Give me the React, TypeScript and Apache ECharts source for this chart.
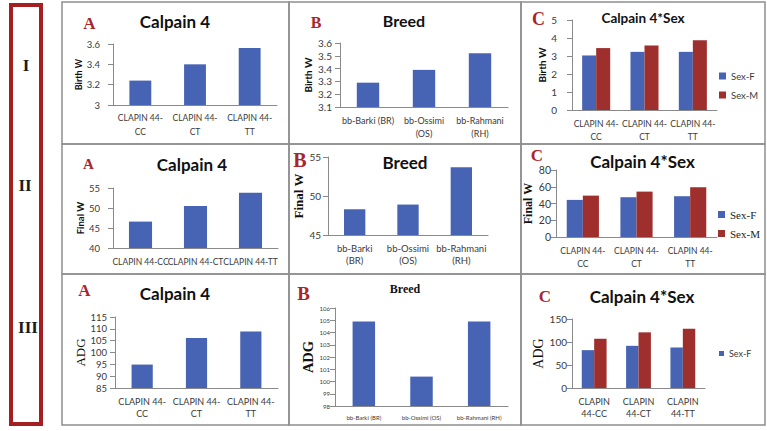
import React, { useEffect, useRef } from "react";
import * as echarts from "echarts";

// ---------- data ----------
const genotypes = ["CLAPIN 44-CC", "CLAPIN 44-CT", "CLAPIN 44-TT"];
const breeds = ["bb-Barki (BR)", "bb-Ossimi (OS)", "bb-Rahmani (RH)"];
const sexes = ["Sex-F", "Sex-M"];

const birthByGenotype = [3.24, 3.4, 3.56];
const birthByBreed = [3.29, 3.39, 3.52];
const birthFemale = [3.03, 3.23, 3.23];
const birthMale = [3.44, 3.58, 3.87];

const finalByGenotype = [46.6, 50.5, 53.8];
const finalByBreed = [48.3, 48.9, 53.7];
const finalFemale = [44.3, 47.5, 48.7];
const finalMale = [49.4, 54.2, 59.4];

const adgByGenotype = [94.9, 106.1, 108.9];
const adgByBreed = [104.9, 100.4, 104.9];
const adgFemale = [82.3, 91.7, 88.2];
const adgMale = [107, 121, 128.8];

const rowLabels = ["I", "II", "III"];
const panelLetters = ["A", "B", "C"];
const titleGenotype = "Calpain 4";
const titleBreed = "Breed";
const titleSex = "Calpain 4*Sex";

// ---------- styles ----------
const SANS = "Lato, 'Open Sans', sans-serif";
const SERIF = "'Liberation Serif', 'DejaVu Serif', serif";
const BLUE = "#4763b3";
const RED = "#9e2f2c";
const AXIS = "#8a8a8a";
const LABEL = "#3a3a3a";
const MARK = "#a8262b";

const wrapGenotype = (v: string) => v.replace("44-", "44-\n");
const wrapGenotype2 = (v: string) => v.replace("CLAPIN ", "CLAPIN\n");
const wrapBreedB1 = (v: string, i: number) => (i === 0 ? v : v.replace(" (", "\n("));
const wrapBreed = (v: string) => v.replace(" (", "\n(");
const noWrap = (v: string) => v;

type Panel = {
  grid: number[];
  cats: string[];
  fmt: (v: string, i: number) => string;
  series: { name: string; data: number[]; color: string }[];
  y: number[];
  yName: string;
  nameFont: [string, number, string];
  nameGap: number;
  yLabel: [number, number];
  xLabel: [number, number, number];
  barWidth: string;
  dec?: number;
};

const panels: Panel[] = [
  {
    grid: [113, 44, 164, 61], cats: genotypes, fmt: wrapGenotype,
    series: [{ name: titleGenotype, data: birthByGenotype, color: BLUE }],
    y: [3, 3.6, 0.2], yName: "Birth W", nameFont: [SANS, 9, "bold"], nameGap: 26,
    yLabel: [9.5, 13], xLabel: [8.5, 14, 6], barWidth: "40%", dec: 1,
  },
  {
    grid: [340, 43, 168, 64], cats: breeds, fmt: wrapBreedB1,
    series: [{ name: titleBreed, data: birthByBreed, color: BLUE }],
    y: [3.1, 3.6, 0.1], yName: "Birth W", nameFont: [SANS, 10, "bold"], nameGap: 27,
    yLabel: [10, 8], xLabel: [9, 13, 7], barWidth: "40%", dec: 1,
  },
  {
    grid: [572, 20, 145, 90], cats: genotypes, fmt: wrapGenotype,
    series: [
      { name: sexes[0], data: birthFemale, color: BLUE },
      { name: sexes[1], data: birthMale, color: RED },
    ],
    y: [0, 5, 1], yName: "Birth W", nameFont: [SANS, 10, "bold"], nameGap: 23,
    yLabel: [10, 15], xLabel: [8.5, 13, 7], barWidth: "29%",
  },
  {
    grid: [113, 188, 165, 60], cats: genotypes, fmt: noWrap,
    series: [{ name: titleGenotype, data: finalByGenotype, color: BLUE }],
    y: [40, 55, 5], yName: "Final W", nameFont: [SANS, 9.5, "bold"], nameGap: 28,
    yLabel: [9.5, 13], xLabel: [8.5, 12, 8], barWidth: "42%",
  },
  {
    grid: [328, 157, 160, 78], cats: breeds, fmt: wrapBreed,
    series: [{ name: titleBreed, data: finalByBreed, color: BLUE }],
    y: [45, 55, 5], yName: "Final W", nameFont: [SERIF, 13, "bold"], nameGap: 23,
    yLabel: [10, 7], xLabel: [9.5, 12.5, 7], barWidth: "40%",
  },
  {
    grid: [556, 170, 161, 67], cats: genotypes, fmt: wrapGenotype,
    series: [
      { name: sexes[0], data: finalFemale, color: BLUE },
      { name: sexes[1], data: finalMale, color: RED },
    ],
    y: [0, 80, 20], yName: "Final W", nameFont: [SERIF, 12, "bold"], nameGap: 22,
    yLabel: [10.5, 5], xLabel: [8.5, 13, 7], barWidth: "30%",
  },
  {
    grid: [115, 317, 163, 71], cats: genotypes, fmt: wrapGenotype,
    series: [{ name: titleGenotype, data: adgByGenotype, color: BLUE }],
    y: [85, 115, 5], yName: "ADG", nameFont: [SERIF, 13, "normal"], nameGap: 28,
    yLabel: [9.5, 8], xLabel: [9, 12, 7], barWidth: "39%",
  },
  {
    grid: [335, 308, 173, 98], cats: breeds, fmt: noWrap,
    series: [{ name: titleBreed, data: adgByBreed, color: BLUE }],
    y: [98, 106, 1], yName: "ADG", nameFont: [SERIF, 14.5, "bold"], nameGap: 19,
    yLabel: [6, 5], xLabel: [6, 8, 7], barWidth: "39%",
  },
  {
    grid: [572, 319, 133, 69], cats: genotypes, fmt: wrapGenotype2,
    series: [
      { name: sexes[0], data: adgFemale, color: BLUE },
      { name: sexes[1], data: adgMale, color: RED },
    ],
    y: [0, 150, 50], yName: "ADG", nameFont: [SERIF, 14, "normal"], nameGap: 25,
    yLabel: [10, 5], xLabel: [9, 12.5, 7], barWidth: "28%",
  },
];

// box layout
const colEdges = [62, 289, 521, 765];
const rowEdges = [2, 144, 274, 425];

const letterPos: [number, number, number][] = [
  [89.5, 23.5, 17], [316, 22.5, 16], [538.5, 19, 18],
  [88.5, 164, 15], [300, 160, 20], [537, 155.5, 17],
  [84.5, 290.5, 17], [303.5, 293, 19], [545, 296.5, 17],
];
const titlePos: [number, number, number, string][] = [
  [175, 21.5, 17, SANS], [404, 20.5, 16, SANS], [643, 18, 13.5, SANS],
  [192, 164, 17, SANS], [405, 162.5, 17, SANS], [642.5, 161.5, 17, SANS],
  [175, 293, 17, SANS], [405, 289, 12, SERIF], [642, 296.5, 17, SANS],
];
const titles = [titleGenotype, titleBreed, titleSex];
const rowLabelPos: [number, number][] = [[26, 65], [25, 185], [28, 327]];

export default function App() {
  const ref = useRef<HTMLDivElement>(null);
  useEffect(() => {
    if (!ref.current) return;
    const chart = echarts.init(ref.current, undefined, { renderer: "svg" });

    const graphic: any[] = [];
    graphic.push({
      type: "rect",
      shape: { x: 11, y: 5, width: 30, height: 419 },
      style: { fill: "none", stroke: "#a51e22", lineWidth: 4 },
    });
    rowLabels.forEach((t, i) => {
      graphic.push({
        type: "text",
        x: rowLabelPos[i][0], y: rowLabelPos[i][1],
        style: {
          text: t, fontFamily: SERIF, fontSize: 17, fontWeight: "bold", fill: "#1a1a1a",
          textAlign: "center", textVerticalAlign: "middle",
        },
      });
    });
    for (let r = 0; r < 3; r++) {
      for (let c = 0; c < 3; c++) {
        graphic.push({
          type: "rect",
          shape: {
            x: colEdges[c], y: rowEdges[r],
            width: colEdges[c + 1] - colEdges[c], height: rowEdges[r + 1] - rowEdges[r],
          },
          style: { fill: "none", stroke: "#8f8f8f", lineWidth: 1.5 },
          z: 10,
        });
        const k = r * 3 + c;
        graphic.push({
          type: "text",
          x: letterPos[k][0], y: letterPos[k][1],
          style: {
            text: panelLetters[c], fontFamily: SERIF, fontSize: letterPos[k][2], fontWeight: "bold",
            fill: MARK, textAlign: "center", textVerticalAlign: "middle",
          },
          z: 10,
        });
        graphic.push({
          type: "text",
          x: titlePos[k][0], y: titlePos[k][1],
          style: {
            text: titles[c], fontFamily: titlePos[k][3], fontSize: titlePos[k][2], fontWeight: "bold",
            fill: "#111", textAlign: "center", textVerticalAlign: "middle",
          },
          z: 10,
        });
      }
    }

    const option: any = {
      animation: false,
      backgroundColor: "#ffffff",
      grid: panels.map((p) => ({
        left: p.grid[0], top: p.grid[1], width: p.grid[2], height: p.grid[3], containLabel: false,
      })),
      xAxis: panels.map((p, i) => ({
        type: "category",
        gridIndex: i,
        data: p.cats,
        axisLine: { lineStyle: { color: AXIS, width: 1 } },
        axisTick: { length: 5, lineStyle: { color: AXIS } },
        axisLabel: {
          interval: 0,
          fontFamily: SANS,
          fontSize: p.xLabel[0],
          lineHeight: p.xLabel[1],
          margin: p.xLabel[2],
          color: LABEL,
          formatter: p.fmt,
        },
      })),
      yAxis: panels.map((p, i) => ({
        type: "value",
        gridIndex: i,
        min: p.y[0],
        max: p.y[1],
        interval: p.y[2],
        splitLine: { show: false },
        axisLine: { show: true, lineStyle: { color: AXIS, width: 1 } },
        axisTick: { show: true, length: 5, lineStyle: { color: AXIS } },
        axisLabel: {
          fontFamily: SANS,
          fontSize: p.yLabel[0],
          margin: p.yLabel[1],
          color: LABEL,
          formatter: (v: number) => (p.dec ? String(Math.round(v * 10) / 10) : String(v)),
        },
        name: p.yName,
        nameLocation: "middle",
        nameGap: p.nameGap,
        nameRotate: 90,
        nameTextStyle: {
          fontFamily: p.nameFont[0],
          fontSize: p.nameFont[1],
          fontWeight: p.nameFont[2],
          color: "#111",
        },
      })),
      series: panels.flatMap((p, i) =>
        p.series.map((s) => ({
          type: "bar",
          name: s.name,
          xAxisIndex: i,
          yAxisIndex: i,
          data: s.data,
          barWidth: p.barWidth,
          barGap: "0%",
          itemStyle: { color: s.color },
        }))
      ),
      legend: [
        {
          left: 719, top: 71, orient: "vertical", data: sexes, padding: 0,
          itemWidth: 7, itemHeight: 7, itemGap: 9, icon: "rect", selectedMode: false,
          textStyle: { fontFamily: SANS, fontSize: 9.5, color: LABEL },
        },
        {
          left: 718, top: 209, orient: "vertical", data: sexes, padding: 0,
          itemWidth: 7, itemHeight: 7, itemGap: 8, icon: "rect", selectedMode: false,
          textStyle: { fontFamily: SERIF, fontSize: 11, color: "#222" },
        },
        {
          left: 719, top: 349, orient: "vertical", data: [sexes[0]], padding: 0,
          itemWidth: 5, itemHeight: 5, itemGap: 8, icon: "rect", selectedMode: false,
          textStyle: { fontFamily: SANS, fontSize: 9, color: LABEL },
        },
      ],
      graphic,
    };
    chart.setOption(option);
    return () => chart.dispose();
  }, []);

  return (
    <div
      ref={ref}
      style={{ position: "fixed", left: 0, top: 0, width: 767, height: 431, background: "#fff" }}
    />
  );
}
